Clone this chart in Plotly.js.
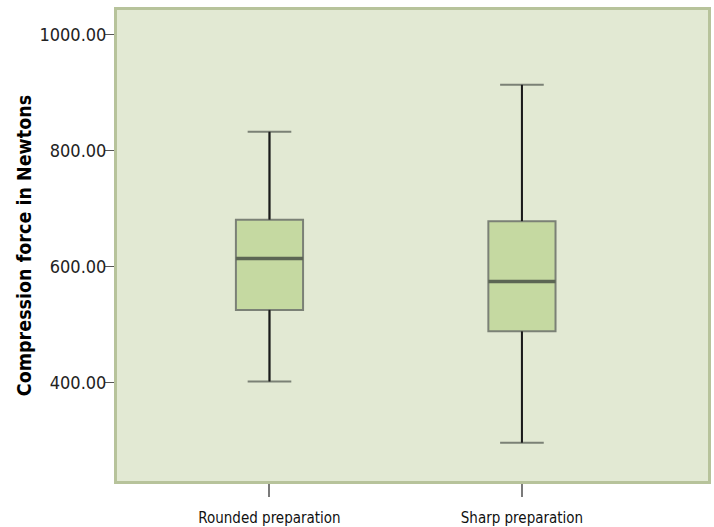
<!DOCTYPE html>
<html>
<head>
<meta charset="utf-8">
<script src="https://cdn.plot.ly/plotly-3.0.1.min.js"></script>
<style>html,body{margin:0;padding:0;background:#fff;}#chart{width:714px;height:527px;}</style>
</head>
<body>
<div id="chart"></div>
<script>
// Data (Newtons)
var categories = ['Rounded preparation', 'Sharp preparation'];
var positions = [0, 1];
var lowerFence = [401.5, 296];
var q1Values = [525, 488];
var medianValues = [613.5, 574];
var q3Values = [680.5, 678];
var upperFence = [832, 913];
var yTicks = [400, 600, 800, 1000];

var FONT = '"Liberation Sans Narrow", "DejaVu Sans Condensed", "Liberation Sans", sans-serif';
var halfBox = 0.133;

var traces = [];
traces.push({
  type: 'box',
  x: positions,
  q1: q1Values,
  median: medianValues,
  q3: q3Values,
  lowerfence: lowerFence,
  upperfence: upperFence,
  width: 2 * halfBox,
  whiskerwidth: 0.65,
  fillcolor: '#c5d9a1',
  line: {color: '#7b8176', width: 2},
  hoverinfo: 'skip',
  showlegend: false
});

// black whisker stems
var wx = [], wy = [];
for (var i = 0; i < positions.length; i++) {
  wx.push(positions[i], positions[i], null, positions[i], positions[i], null);
  wy.push(q3Values[i], upperFence[i], null, q1Values[i], lowerFence[i], null);
}
traces.push({
  type: 'scatter', mode: 'lines', x: wx, y: wy,
  line: {color: '#1a1a1a', width: 2}, hoverinfo: 'skip', showlegend: false
});

// thicker darker median lines
var mx = [], my = [];
for (var j = 0; j < positions.length; j++) {
  mx.push(positions[j] - halfBox, positions[j] + halfBox, null);
  my.push(medianValues[j], medianValues[j], null);
}
traces.push({
  type: 'scatter', mode: 'lines', x: mx, y: my,
  line: {color: '#5c6654', width: 3.5}, hoverinfo: 'skip', showlegend: false
});

var layout = {
  width: 714, height: 527,
  margin: {l: 117, r: 6, t: 10, b: 46},
  paper_bgcolor: '#ffffff',
  plot_bgcolor: '#e2e9d3',
  showlegend: false,
  xaxis: {
    type: 'linear',
    range: [-0.604, 1.737],
    tickvals: positions,
    ticktext: categories,
    ticks: 'outside', ticklen: 13, tickwidth: 2, tickcolor: '#7a7a7a',
    ticklabelstandoff: 8,
    showgrid: false, zeroline: false,
    showline: true, linecolor: '#b7c39b', linewidth: 3, mirror: true,
    tickfont: {family: FONT, size: 15, color: '#111'},
    fixedrange: true
  },
  yaxis: {
    type: 'linear',
    range: [230, 1042],
    tickvals: yTicks,
    tickformat: '.2f',
    ticks: 'outside', ticklen: 9, tickwidth: 1.5, tickcolor: '#555',
    ticklabelstandoff: -5,
    showgrid: false, zeroline: false,
    showline: true, linecolor: '#b7c39b', linewidth: 3, mirror: true,
    tickfont: {family: FONT, size: 18, color: '#222'},
    title: {text: '<b>Compression force in Newtons</b>', standoff: 3,
            font: {family: FONT, size: 19.5, color: '#000'}},
    fixedrange: true
  }
};

Plotly.newPlot('chart', traces, layout, {displayModeBar: false, staticPlot: true});
</script>
</body>
</html>
